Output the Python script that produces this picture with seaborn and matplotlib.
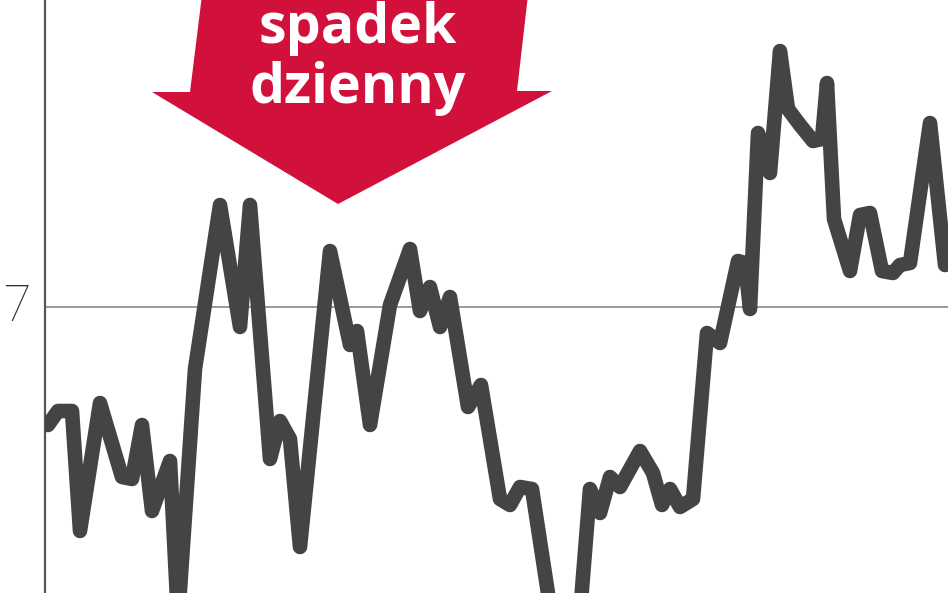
import pandas as pd
import matplotlib
matplotlib.use("Agg")
import matplotlib.pyplot as plt
import seaborn as sns
from matplotlib.patches import Polygon

# day index and closing price
days = [0.6, 2.6, 5.4, 7.0, 11.0, 15.4, 17.4, 19.4, 21.4, 25.0, 26.6, 30.0,
        35.0, 39.0, 41.0, 45.0, 47.0, 49.0, 51.0, 57.0, 61.0, 62.4, 65.0, 69.0,
        73.0, 75.0, 77.0, 79.0, 81.0, 84.6, 87.2, 91.0, 93.0, 95.0, 97.4, 102.0,
        106.6, 109.0, 111.0, 113.0, 115.0, 119.0, 121.6, 123.4, 125.0, 127.0, 129.6, 132.4,
        135.0, 138.6, 140.0, 141.0, 142.6, 145.0, 147.0, 148.6, 151.0, 153.6, 155.4, 156.4,
        157.8, 161.0, 163.0, 165.0, 167.4, 169.6, 171.0, 173.0, 177.0, 180.0]
price = [6.41, 6.48, 6.48, 5.88, 6.52, 6.15, 6.14, 6.41, 5.98, 6.23, 5.44, 6.69,
         7.51, 6.90, 7.51, 6.24, 6.43, 6.34, 5.80, 7.28, 6.81, 6.88, 6.41, 7.01,
         7.29, 6.98, 7.10, 6.90, 7.05, 6.50, 6.61, 6.04, 6.01, 6.10, 6.09, 5.34,
         5.34, 6.09, 5.97, 6.15, 6.10, 6.28, 6.17, 6.01, 6.09, 6.00, 6.04, 6.87,
         6.82, 7.23, 7.22, 6.99, 7.87, 7.67, 8.28, 7.99, 7.91, 7.83, 7.84, 8.12,
         7.44, 7.18, 7.46, 7.47, 7.18, 7.17, 7.21, 7.22, 7.92, 7.21]

grid_value = 7
grid_label = "7"
arrow_text = ["spadek", "dzienny"]

df = pd.DataFrame({"day": days, "price": price})

sns.set_style("white")

W, H = 948, 593
fig = plt.figure(figsize=(W / 100, H / 100), dpi=100)
ax = fig.add_axes([45 / W, 0, 1 - 45 / W, 1])

ax.axhline(grid_value, color="#9a9a9a", lw=1.4, zorder=1)
sns.lineplot(data=df, x="day", y="price", ax=ax, color="#444446", lw=10.5,
             solid_joinstyle="round", solid_capstyle="round", zorder=3)

ax.set_xlim(0, 180.6)
ax.set_ylim(5.57, 8.535)
ax.set_xticks([])
ax.set_yticks([])
ax.set_xlabel("")
ax.set_ylabel("")
for s in ["top", "right", "bottom"]:
    ax.spines[s].set_visible(False)
ax.spines["left"].set_color("#555555")
ax.spines["left"].set_linewidth(1.6)

# "7" label to the left of the axis, kept inside the picture
lab_tr = ax.get_yaxis_transform()
ax.text(-0.046, grid_value, grid_label, transform=lab_tr,
        ha="left", va="center", fontsize=36, color="#333333",
        family=["Roboto", "DejaVu Sans"], fontweight="light")

# red arrow in figure pixel coordinates
def px(x, y):
    return (x / W, 1 - y / H)

arrow_pts = [px(202, -5), px(190, 92), px(152, 92), px(338, 204),
             px(552, 91), px(517, 91), px(528, -5)]
fig.patches.append(Polygon(arrow_pts, closed=True, transform=fig.transFigure,
                           facecolor="#d2103c", edgecolor="none", zorder=5))

for txt, base in zip(arrow_text, [43, 103]):
    fig.text(358 / W, 1 - base / H, txt, ha="center", va="baseline",
             fontsize=40, color="white", fontweight="bold",
             family=["Open Sans", "DejaVu Sans"], zorder=6)

fig.savefig("out.png", dpi=100)
